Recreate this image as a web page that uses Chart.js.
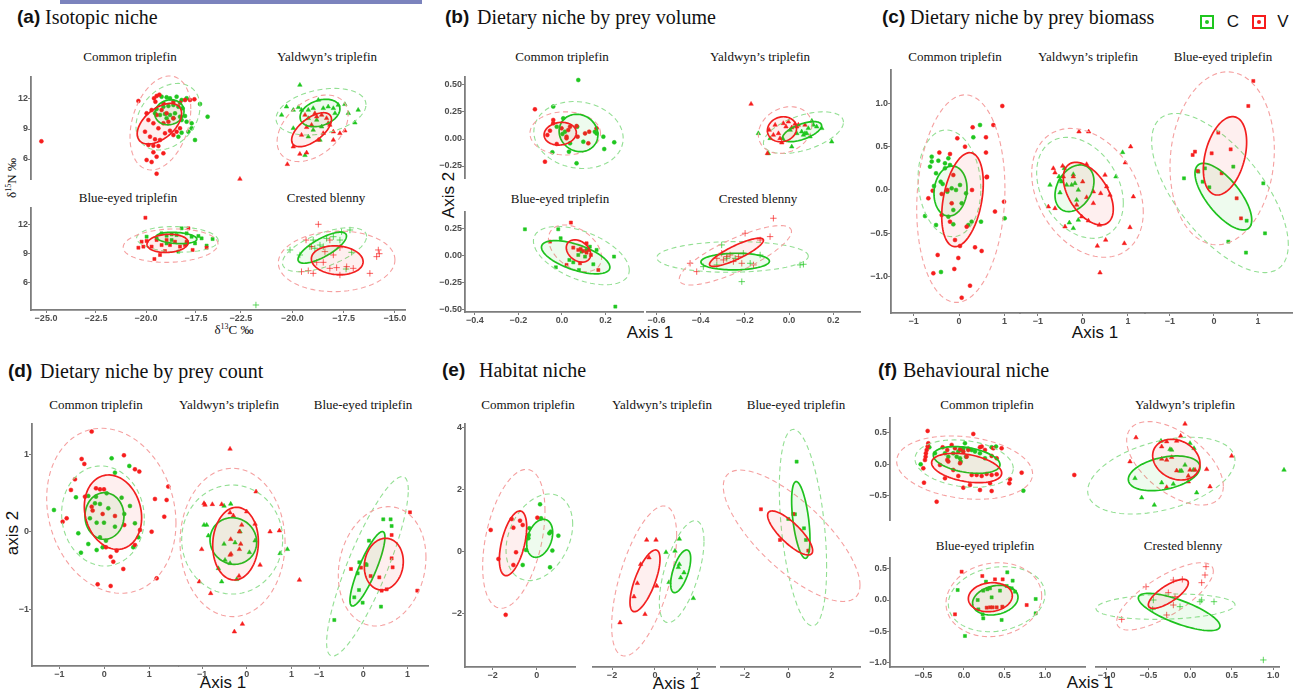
<!DOCTYPE html>
<html>
<head>
<meta charset="utf-8">
<script src="https://cdn.jsdelivr.net/npm/chart.js@4.4.1/dist/chart.umd.min.js"></script>
<style>
  body { margin: 0; background: #fff; width: 1299px; height: 693px; overflow: hidden; position: relative; }
  canvas { position: absolute; }
  .t { position: absolute; white-space: nowrap; color: #111; }
  .lb { font: bold 19px "Liberation Sans", sans-serif; transform: translateY(-50%); }
  .ls { font: 20px "Liberation Serif", serif; transform: translateY(-50%); }
  .sub { font: 13px "Liberation Serif", serif; transform: translate(-50%, -50%); }
  .ax { font: 17px "Liberation Sans", sans-serif; transform: translate(-50%, -50%); }
  .axr { font: 17px "Liberation Sans", sans-serif; transform: translate(-50%, -50%) rotate(-90deg); }
  .dl { font: 13px "Liberation Serif", serif; transform: translate(-50%, -50%); }
  .dlr { font: 13px "Liberation Serif", serif; transform: translate(-50%, -50%) rotate(-90deg); }
  sup { font-size: 8px; }
  .key { position: absolute; width: 10px; height: 10px; border: 2px solid; }
  .key i { position: absolute; left: 3px; top: 3px; width: 4px; height: 4px; border-radius: 50%; }
</style>
</head>
<body>
<div style="position:absolute;left:60px;top:0;width:362px;height:4px;background:#7b83bd"></div>

<div class="t lb" style="left:17px;top:17px">(a)</div><div class="t ls" style="left:45px;top:17px">Isotopic niche</div>
<div class="t lb" style="left:445px;top:17px">(b)</div><div class="t ls" style="left:477px;top:17px">Dietary niche by prey volume</div>
<div class="t lb" style="left:882px;top:17px">(c)</div><div class="t ls" style="left:910px;top:17px">Dietary niche by prey biomass</div>
<div class="t lb" style="left:8px;top:371px">(d)</div><div class="t ls" style="left:40px;top:371px">Dietary niche by prey count</div>
<div class="t lb" style="left:442px;top:370px">(e)</div><div class="t ls" style="left:479px;top:370px">Habitat niche</div>
<div class="t lb" style="left:878px;top:370px">(f)</div><div class="t ls" style="left:903px;top:370px">Behavioural niche</div>

<div class="key" style="left:1200px;top:15px;border-color:#1fc61f"><i style="background:#1fc61f"></i></div>
<div class="t ax" style="left:1233px;top:22px">C</div>
<div class="key" style="left:1252px;top:15px;border-color:#f61d1d"><i style="background:#f61d1d"></i></div>
<div class="t ax" style="left:1283px;top:22px">V</div>

<div class="t sub" style="left:130px;top:57px">Common triplefin</div>
<div class="t sub" style="left:327px;top:57px">Yaldwyn’s triplefin</div>
<div class="t sub" style="left:128px;top:198px">Blue-eyed triplefin</div>
<div class="t sub" style="left:326px;top:198px">Crested blenny</div>
<div class="t sub" style="left:562px;top:57px">Common triplefin</div>
<div class="t sub" style="left:760px;top:57px">Yaldwyn’s triplefin</div>
<div class="t sub" style="left:560px;top:199px">Blue-eyed triplefin</div>
<div class="t sub" style="left:758px;top:199px">Crested blenny</div>
<div class="t sub" style="left:955px;top:57px">Common triplefin</div>
<div class="t sub" style="left:1088px;top:57px">Yaldwyn’s triplefin</div>
<div class="t sub" style="left:1223px;top:57px">Blue-eyed triplefin</div>
<div class="t sub" style="left:96px;top:405px">Common triplefin</div>
<div class="t sub" style="left:229px;top:405px">Yaldwyn’s triplefin</div>
<div class="t sub" style="left:363px;top:405px">Blue-eyed triplefin</div>
<div class="t sub" style="left:528px;top:405px">Common triplefin</div>
<div class="t sub" style="left:662px;top:405px">Yaldwyn’s triplefin</div>
<div class="t sub" style="left:796px;top:405px">Blue-eyed triplefin</div>
<div class="t sub" style="left:987px;top:405px">Common triplefin</div>
<div class="t sub" style="left:1185px;top:405px">Yaldwyn’s triplefin</div>
<div class="t sub" style="left:985px;top:546px">Blue-eyed triplefin</div>
<div class="t sub" style="left:1183px;top:546px">Crested blenny</div>

<div class="t dl" style="left:234px;top:330px">δ<sup>13</sup>C ‰</div>
<div class="t dlr" style="left:12px;top:178px">δ<sup>15</sup>N ‰</div>
<div class="t ax" style="left:650px;top:333px">Axis 1</div>
<div class="t axr" style="left:449px;top:195px">Axis 2</div>
<div class="t ax" style="left:1095px;top:333px">Axis 1</div>
<div class="t ax" style="left:223px;top:683px">Axis 1</div>
<div class="t axr" style="left:13px;top:533px">axis 2</div>
<div class="t ax" style="left:676px;top:684px">Axis 1</div>
<div class="t ax" style="left:1090px;top:683px">Axis 1</div>

<script>
// ---- data: points [x, y], C = green, V = red ----
// ellipses: [cx, cy, halfX, halfY, rho] in order C solid, V solid, C dashed, V dashed

// (a) isotopic niche
const a_com_C = [[-19.22,12.23],[-18.97,12.17],[-18.8,12.07],[-18.47,12.23],[-18.22,11.9],[-17.97,12.07],[-17.3,11.5],[-16.92,10.23],[-19.13,11.23],[-18.88,11.3],[-18.63,11.4],[-18.38,11.23],[-18.17,11.07],[-19.55,10.57],[-19.3,10.4],[-19.05,10.5],[-18.8,10.4],[-18.55,10.57],[-18.3,10.23],[-18.05,10.3],[-18.97,10.07],[-18.63,10.07],[-18.22,9.9],[-17.97,9.73],[-17.72,9.57],[-17.72,9.07],[-17.88,8.73],[-18.22,8.63],[-18.38,8.23],[-17.55,7.9],[-19.47,11.0]];
const a_com_V = [[-25.23,7.77],[-20.38,11.8],[-19.6,12.07],[-19.47,12.3],[-19.33,12.43],[-19.53,11.73],[-19.13,11.57],[-18.63,11.73],[-18.3,11.63],[-18.05,11.9],[-17.8,11.9],[-17.58,11.97],[-19.97,10.57],[-19.72,10.9],[-19.47,10.4],[-19.22,10.9],[-18.97,10.57],[-19.88,9.9],[-19.63,9.57],[-19.38,9.07],[-19.13,9.57],[-18.88,9.73],[-18.63,10.07],[-20.05,8.73],[-19.8,8.23],[-19.55,7.97],[-19.3,7.9],[-19.05,8.57],[-18.8,8.83],[-18.63,8.4],[-19.88,7.4],[-19.63,7.33],[-19.38,7.3],[-19.63,6.67],[-19.13,6.57],[-19.47,6.23],[-19.97,5.9],[-19.72,5.7],[-19.47,4.53],[-18.3,9.07],[-18.47,8.73]];
const a_com_ell = [[-18.83,10.67,0.73,1.25,0.1],[-19.33,9.53,1.11,2.03,0.5],[-18.9,10.23,1.6,3.33,0.3],[-19.28,9.6,1.52,4.7,0.3]];

const a_yal_C = [[-19.63,13.4],[-20.28,11.23],[-19.95,10.9],[-19.7,11.17],[-19.55,10.9],[-19.22,10.9],[-18.98,11.07],[-18.73,11.9],[-18.49,11.07],[-18.25,11.23],[-18.0,11.07],[-17.76,11.4],[-17.44,11.47],[-16.79,10.9],[-17.92,10.57],[-17.27,10.57],[-16.95,9.63],[-19.22,10.07],[-18.81,9.9],[-18.57,9.23],[-18.98,8.9],[-19.22,8.23],[-18.65,7.9],[-19.38,6.37],[-19.95,9.07],[-20.52,10.4]];
const a_yal_V = [[-20.24,5.47],[-19.63,6.5],[-19.3,6.63],[-19.95,7.23],[-19.55,8.4],[-19.3,9.17],[-19.06,9.4],[-18.81,10.23],[-18.9,10.57],[-18.57,10.4],[-18.33,10.07],[-18.17,9.4],[-18.0,8.73],[-18.49,8.57],[-18.73,7.9],[-17.68,8.57],[-17.44,8.83],[-18.0,7.9],[-18.25,9.57],[-19.38,10.4],[-22.55,4.0]];
const a_yal_ell = [[-18.65,10.6,0.97,1.37,0.3],[-19.06,8.93,0.97,1.7,0.6],[-18.6,10.73,2.19,2.33,0.3],[-19.01,9.07,1.73,3.33,0.4]];

const a_blu_C = [[-19.97,10.71],[-19.47,10.54],[-19.22,11.05],[-18.97,10.81],[-18.72,10.95],[-18.47,10.88],[-18.22,11.56],[-17.97,11.05],[-17.72,10.71],[-17.38,10.78],[-17.22,10.54],[-17.55,10.03],[-16.97,9.8],[-16.67,10.47],[-18.38,9.19],[-18.72,10.37],[-18.97,10.03],[-17.97,10.03]];
const a_blu_V = [[-20.03,12.64],[-20.38,9.59],[-20.22,10.2],[-19.97,10.27],[-20.13,9.7],[-19.72,9.7],[-19.58,8.44],[-19.3,8.85],[-19.47,10.37],[-19.22,9.86],[-18.97,10.37],[-18.8,9.86],[-18.55,10.2],[-18.3,9.7],[-18.05,9.86],[-17.88,11.56],[-17.97,10.2],[-17.67,9.36],[-16.97,9.59],[-19.05,9.25]];
const a_blu_ell = [[-18.48,10.58,1.02,0.58,-0.2],[-18.92,10.03,1.03,0.93,0.1],[-18.43,10.44,2.04,1.3,-0.1],[-18.77,9.8,2.37,1.7,0.1]];

const a_cre_C = [[-17.19,11.39],[-17.6,11.22],[-18.0,10.71],[-18.33,10.54],[-18.65,9.86],[-18.9,9.53],[-19.14,9.7],[-18.49,9.7],[-17.68,10.37],[-18.98,10.37],[-19.63,8.85],[-20.11,9.36],[-17.11,9.12],[-17.38,7.42],[-21.77,3.76]];
const a_cre_V = [[-18.73,11.97],[-19.33,10.37],[-19.55,7.15],[-19.22,7.25],[-18.98,6.98],[-18.81,8.1],[-18.49,8.1],[-18.17,7.49],[-17.84,7.56],[-17.68,6.81],[-17.35,7.66],[-17.03,7.49],[-16.22,6.98],[-15.89,8.68],[-15.81,9.36],[-15.76,8.98],[-18.41,9.19],[-18.0,8.85],[-17.68,9.59],[-18.17,10.37],[-19.06,9.7]];
const a_cre_ell = [[-18.54,9.59,1.18,1.58,0.75],[-17.81,8.31,1.26,1.47,-0.1],[-18.43,9.39,2.05,2.24,0.6],[-17.84,8.2,2.84,3.08,0.05]];

// (b) prey volume
const b_com_C = [[0.075,0.546],[-0.04,0.3],[0.006,0.191],[-0.024,0.114],[0.002,0.046],[0.037,-0.04],[0.07,0.114],[0.032,-0.117],[0.067,-0.225],[-0.044,-0.123],[0.151,0.068],[0.159,0.052],[0.19,0.022],[0.194,-0.093],[0.24,-0.031],[0.098,-0.025],[0.014,0.068]];
const b_com_V = [[-0.124,0.275],[-0.078,-0.21],[-0.04,0.176],[-0.067,0.037],[-0.055,0.077],[-0.024,-0.046],[-0.002,0.099],[0.021,0.022],[0.029,0.083],[0.021,0.006],[0.037,0.114],[0.067,0.12],[0.072,0.022],[0.106,0.052],[0.121,-0.04],[0.125,0.068],[0.159,0.099],[-0.04,0.145]];
const b_com_ell = [[0.076,0.056,0.089,0.173,-0.1],[-0.008,0.049,0.074,0.105,0.1],[0.076,0.037,0.205,0.31,-0.1],[0.015,0.052,0.162,0.2,0]];

const b_yal_C = [[-0.139,0.052],[-0.086,0.006],[-0.094,-0.133],[-0.029,0.006],[0.005,0.083],[0.012,-0.071],[0.035,0.052],[0.057,0.068],[0.065,0.037],[0.08,0.052],[0.087,0.099],[0.103,0.167],[0.11,0.13],[0.125,0.114],[0.148,0.099],[0.193,-0.025],[0.095,0.022],[0.072,0.052]];
const b_yal_V = [[-0.172,0.324],[-0.09,0.083],[-0.071,0.037],[-0.048,0.052],[-0.063,0.13],[-0.041,0.006],[-0.026,0.145],[-0.014,0.114],[-0.003,0.16],[0.012,0.105],[0.027,0.139],[0.035,0.114],[0.042,0.13],[-0.098,-0.133],[-0.033,-0.034],[0.072,0.13]];
const b_yal_ell = [[0.059,0.068,0.088,0.093,0.6],[-0.032,0.09,0.066,0.116,0.1],[0.065,0.059,0.181,0.193,0.5],[-0.018,0.083,0.121,0.216,0.2]];

const b_blu_C = [[-0.17,0.247],[-0.017,0.247],[-0.006,0.164],[-0.028,-0.105],[0.052,-0.059],[0.075,0.009],[0.09,0.04],[0.106,-0.006],[0.113,0.056],[0.128,0.086],[0.144,-0.077],[0.159,0.056],[0.078,-0.13],[0.239,-0.006],[0.245,-0.469],[0.034,-0.037]];
const b_blu_V = [[0.041,0.309],[-0.055,0.133],[0.021,-0.083],[0.052,0.077],[0.075,0.056],[0.086,0.065],[0.098,0.046],[0.113,0.031],[0.121,0.056],[0.113,0.117],[0.167,-0.13],[0.083,-0.068],[0.133,0.009]];
const b_blu_ell = [[0.063,-0.012,0.157,0.154,-0.6],[0.076,0.046,0.056,0.103,-0.3],[0.089,0.003,0.22,0.27,-0.5],[0.06,0.071,0.122,0.216,-0.4]];

const b_cre_C = [[-0.305,0.102],[-0.207,0.025],[-0.176,-0.068],[-0.214,-0.238],[0.05,-0.083],[0.065,-0.077],[-0.327,-0.083],[-0.282,-0.022],[-0.244,-0.022],[-0.131,0.009],[-0.388,-0.099]];
const b_cre_V = [[-0.071,0.349],[-0.199,0.21],[-0.086,0.179],[-0.131,0.148],[-0.305,0.025],[-0.327,-0.022],[-0.297,-0.037],[-0.282,-0.006],[-0.267,0.009],[-0.252,-0.052],[-0.229,-0.006],[-0.214,-0.068],[-0.448,-0.068],[-0.418,-0.145],[-0.161,-0.083]];
const b_cre_ell = [[-0.244,-0.052,0.155,0.077,0.05],[-0.238,0.034,0.122,0.131,0.85],[-0.256,-0.009,0.343,0.142,0.05],[-0.243,0.006,0.254,0.275,0.8]];

// (c) prey biomass
const c_com_C = [[0.462,0.751],[0.315,0.609],[-0.6,0.385],[-0.6,0.328],[-0.454,0.339],[-0.308,0.308],[-0.234,0.366],[-0.505,0.193],[-0.637,0.27],[-0.198,0.289],[-0.308,0.25],[-0.403,0.096],[-0.359,0.069],[-0.256,-0.019],[-0.161,0.019],[-0.066,0],[0.022,0.058],[0.154,-0.039],[0.059,-0.154],[-0.125,-0.231],[-0.234,-0.308],[-0.125,-0.397],[-0.505,-0.405],[-0.747,-0.301],[0.205,-0.405],[0.278,-0.366],[0.484,-0.366],[-0.396,-0.948],[1.004,-0.328],[-0.55,0.046]];
const c_com_V = [[0.952,0.971],[0.755,0.751],[0.3,0.724],[-0.037,0.597],[0.593,0.609],[0.132,0.501],[-0.432,0.432],[0.593,0.432],[-0.198,0.416],[0.608,0.146],[-0.125,0.173],[-0.579,-0.008],[-0.674,-0.096],[-0.381,-0.046],[-0.161,-0.154],[-0.381,-0.289],[-0.198,-0.366],[-0.088,-0.578],[0.022,-0.647],[-0.469,-0.751],[-0.564,-0.963],[-0.103,-0.913],[-0.015,-0.786],[0.242,-1.106],[0.059,-1.245],[0.352,-0.663],[0.498,-0.705],[0.791,-0.25],[0.989,-0.135],[0.615,0.154],[0.168,-0.424],[0.286,0],[-0.256,0]];
const c_com_ell = [[-0.187,-0.012,0.363,0.289,0.1],[0.077,-0.112,0.457,0.543,0.35],[-0.21,0.077,0.69,0.617,-0.1],[0.04,-0.1,0.97,1.2,0.1]];

const c_yal_C = [[-0.415,0.25],[-0.215,0.181],[0.881,0.435],[-0.533,0.154],[-0.474,0.096],[-0.363,0.058],[-0.252,0.058],[-0.178,0.077],[-0.104,0],[-0.733,0.058],[-0.511,-0.031],[-0.141,-0.116],[-0.304,-0.378],[-0.215,-0.443],[-0.104,-0.347],[0.733,0.154],[-0.511,0.116]];
const c_yal_V = [[-0.089,0.674],[0.126,0.674],[1.059,0.501],[0.941,0.316],[-0.659,0.25],[-0.622,0.2],[-0.452,0.277],[0.081,0.297],[0.489,0.173],[-0.437,0.154],[-0.77,-0.193],[-0.622,-0.212],[-0.4,-0.424],[-0.215,0.154],[-0.007,0.096],[0.23,-0.019],[0.393,-0.039],[0.526,0.039],[0.6,-0.058],[0.081,-0.085],[0.23,-0.154],[-0.141,-0.173],[-0.03,-0.308],[0.119,-0.355],[0.363,-0.405],[0.319,-0.647],[0.504,-0.578],[0.919,-0.617],[1.044,-0.432],[1.119,-0.077],[0.378,-0.956]];
const c_yal_ell = [[-0.189,0.02,0.433,0.27,0.3],[0.118,-0.042,0.555,0.362,-0.5],[-0.067,0.025,0.963,0.584,-0.3],[0.1,-0.033,1.24,0.745,-0.3]];

const c_blu_C = [[0.439,0.27],[-0.682,0.135],[-0.356,0.212],[-0.205,0.25],[-0.258,0.096],[-0.106,0.031],[0.742,-0.355],[1.121,0.077],[1.159,-0.501],[0.326,-0.597],[0.727,-0.724]];
const c_blu_V = [[0.894,1.26],[0.78,0.971],[0.098,0.663],[-0.432,0.443],[-0.485,0.405],[-0.053,0.424],[0.379,0.47],[0.174,0.193],[-0.371,0.22],[0.515,-0.096],[0.614,-0.328]];
const c_blu_ell = [[0.213,-0.077,0.645,0.385,-0.7],[0.25,0.395,0.492,0.453,0.35],[0.136,-0.035,1.553,0.92,-0.65],[0.186,0.366,1.186,1.0,0.1]];

// (d) prey count
const d_com_C = [[0.163,0.948],[0.556,0.85],[0.237,0.764],[-1.119,0.283],[-0.63,0.446],[-0.356,0.464],[-0.185,0.455],[0.052,0.498],[0.385,0.442],[0.57,0.335],[-0.207,0.369],[-0.096,0.361],[0.089,0.305],[-0.319,0.176],[-0.17,0.12],[-0.007,0.12],[0.237,0.069],[0.444,0.232],[0.681,0.112],[-0.578,-0.017],[-0.356,-0.155],[-0.096,-0.069],[0.037,-0.112],[-0.17,-0.232],[-0.519,-0.266],[-0.037,-0.197],[0.644,-0.197],[0.756,-0.069]];
const d_com_V = [[-0.281,1.292],[-0.504,0.94],[-0.444,0.876],[0.437,0.987],[0.681,0.807],[0.778,0.777],[-0.652,0.678],[-0.741,0.541],[1.422,0.584],[1.385,0.412],[1.126,0.425],[1.333,0.197],[1.052,0.004],[-0.837,0.176],[-0.926,0.133],[-0.43,0.455],[-0.185,0.562],[-0.096,0.549],[-0.007,0.549],[-0.259,0.275],[-0.037,0.232],[0.237,0.206],[0.444,0.09],[0.793,0.026],[0.274,-0.24],[0.037,-0.197],[0.141,-0.318],[0.2,-0.382],[0.422,-0.476],[-0.148,-0.674],[0.141,-0.695],[1.163,-0.597],[0.681,-0.167],[-0.281,0.326]];
const d_com_ell = [[0.004,0.206,0.433,0.3,0],[0.193,0.255,0.637,0.479,-0.15],[-0.03,0.206,0.919,0.644,-0.05],[0.156,0.273,1.437,1.062,-0.15]];

const d_yal_C = [[-0.955,0.09],[-0.896,0.09],[-0.507,0.335],[-0.358,0.361],[-0.858,-0.047],[-0.507,-0.155],[-0.261,-0.137],[0.187,-0.112],[0.06,-0.262],[-0.485,-0.361],[-0.634,-0.468],[-0.56,-0.639],[-0.224,-0.609],[0.746,-0.275],[0.91,-0.223],[-0.373,-0.403],[-0.149,0.004]];
const d_yal_V = [[-0.373,1.069],[-0.955,0.369],[-0.933,0.348],[-0.769,0.356],[-0.56,0.356],[0.209,0.519],[-0.373,0.249],[-0.299,0.21],[-0.112,0.09],[0,0.262],[-0.164,0.004],[-0.358,-0.094],[-0.134,-0.155],[-0.164,-0.223],[-0.351,-0.283],[-0.373,-0.296],[0.187,0.103],[0.522,0.004],[0.731,0.017],[-1.007,-0.223],[0.299,-0.425],[-0.172,-0.567],[-1.06,-0.639],[-0.806,-0.79],[-0.097,-1.185],[-0.276,-1.283],[1.179,-0.618]];
const d_yal_ell = [[-0.299,-0.116,0.522,0.3,-0.05],[-0.25,-0.15,0.511,0.468,0.05],[-0.325,-0.097,1.13,0.702,0],[-0.317,-0.135,1.175,0.955,0]];

const d_blu_C = [[0.452,0.163],[0.618,0.163],[0.641,0.077],[0.128,-0.112],[0.053,-0.412],[-0.09,-0.39],[-0.128,-0.532],[-0.098,-0.747],[-0.204,-0.841],[-0.015,-0.91],[0.4,-0.961],[-0.656,-1.133],[0.075,-0.425]];
const d_blu_V = [[1.056,0.253],[0.641,-0.039],[0.641,-0.339],[0.664,-0.455],[-0.279,-0.476],[-0.053,-0.459],[0.166,-0.567],[0.362,-0.584],[0.415,-0.755],[0.528,-0.738],[1.222,-0.755]];
const d_blu_ell = [[0.094,-0.474,0.396,0.479,0.85],[0.464,-0.414,0.441,0.333,0.1],[0.094,-0.442,0.924,1.155,0.85],[0.426,-0.442,0.992,0.768,0.15]];

// (e) habitat niche
const e_com_C = [[0.152,1.516],[0.197,1.065],[-0.333,0.742],[-0.364,0.527],[-0.379,0.419],[-0.485,0.043],[-0.636,-0.441],[0.576,0.581],[0.636,0.634],[0.985,0.505],[0.712,0.022],[0.606,-0.516]];
const e_com_V = [[-2.09,0.688],[-1.74,-0.247],[-1.41,-2.05],[-1.14,1.04],[-1.06,0.763],[-0.758,0.989],[-0.636,0.849],[-0.94,-0.032],[-1.06,-0.441],[0.03,1.086]];
const e_com_ell = [[0.136,0.419,0.591,0.613,0.3],[-1.076,0.258,0.621,1.043,0.5],[0.121,0.452,1.515,1.398,0.3],[-1.04,0.403,1.417,2.24,0.4]];

const e_yal_C = [[0.512,-0.032],[1.132,0.398],[0.93,0.011],[1.132,-0.419],[1.085,-0.516],[1.349,-0.688],[1.194,-0.849],[0.651,-1.0],[1.783,-1.516]];
const e_yal_V = [[-1.628,-2.3],[-0.977,-1.462],[-0.822,-1.032],[-0.667,-0.419],[-0.279,-0.204],[-0.388,0.366],[0.047,0.366],[0.078,-1.118],[-0.465,-2.03]];
const e_yal_ell = [[1.194,-0.645,0.465,0.688,0.6],[-0.465,-0.952,0.698,0.995,0.7],[1.24,-0.656,1.039,1.645,0.6],[-0.504,-0.957,1.512,2.42,0.6]];

const e_blu_C = [[0.384,2.892],[0,1.043],[0.722,0.742],[0.814,0.366],[0.307,1.194]];
const e_blu_V = [[-1.26,1.355],[-0.384,0.366],[0.23,1.204],[0.922,0.022]];
const e_blu_ell = [[0.576,1.011,0.422,1.237,-0.5],[0.084,0.591,1.037,0.71,-0.8],[0.676,0.763,1.09,3.17,-0.4],[0.154,0.5,3.15,2.12,-0.75]];

// (f) behavioural niche
const f_com_C = [[-0.427,0.271],[-0.534,0],[-0.234,0.176],[-0.132,0.176],[-0.07,0.202],[-0.029,0.229],[-0.008,0.25],[0.012,0.335],[0.025,0.122],[-0.049,0.096],[-0.041,0.043],[-0.09,0.122],[0.053,0.25],[0.095,0.229],[0.136,0.202],[-0.193,0.122],[0.259,0.096],[0.341,0.271],[0.395,0.282],[0.732,-0.42],[0.197,0.176],[-0.358,0.176]];
const f_com_V = [[-0.448,0.532],[-0.44,0.335],[-0.448,0.282],[-0.46,0.229],[-0.469,0.176],[-0.473,0.122],[-0.481,0.069],[-0.501,-0.064],[-0.493,-0.293],[-0.337,-0.596],[-0.263,0.271],[-0.206,0.229],[-0.152,0.309],[-0.111,0.255],[-0.049,0.239],[-0.008,0.202],[0.053,0.229],[0.115,0.484],[0.197,0.271],[0.218,0.282],[0.259,0.229],[0.341,0.133],[0.403,0.096],[0.464,0.255],[0.362,0.255],[0.567,-0.239],[0.559,-0.303],[0.711,-0.133],[0.321,-0.303],[0.341,-0.426],[0.197,-0.41],[0.074,-0.33],[-0.008,-0.372],[-0.07,-0.186],[-0.234,-0.223],[-0.296,-0.011],[-0.193,0.043],[-0.049,0.016],[0.033,0.122],[0.095,-0.17],[0.156,-0.17],[0.218,-0.186],[0.279,-0.154],[0.341,-0.17],[0.403,-0.16],[-0.206,0.069],[-0.132,-0.09],[1.36,-0.17]];
const f_com_ell = [[0.033,0.069,0.411,0.213,-0.35],[0.033,-0.059,0.432,0.234,-0.35],[0.002,0.011,0.606,0.378,-0.2],[0.008,-0.053,0.838,0.505,-0.2]];

const f_yal_C = [[-0.348,0.372],[-0.24,0.239],[-0.22,0.229],[0,0.335],[0.048,0.255],[-0.12,-0.106],[-0.1,-0.106],[-0.06,-0.011],[0.04,-0.09],[-0.66,-0.223],[-0.34,-0.293],[-0.2,-0.314],[-0.58,-0.532],[-0.428,-0.649],[0.08,-0.452],[1.128,-0.09]];
const f_yal_V = [[-0.06,0.644],[-0.648,0.426],[-0.72,0.043],[-0.34,0.282],[-0.28,0.362],[-0.16,0.372],[-0.112,0.452],[0.5,0.133],[-0.34,0.085],[-0.28,0.069],[-0.22,0.112],[-0.16,-0.101],[0,-0.09],[0.06,-0.09],[0.2,-0.08],[-0.02,-0.186],[-0.02,-0.277],[0.24,-0.356],[-0.28,-0.367]];
const f_yal_ell = [[-0.31,-0.144,0.43,0.277,0.35],[-0.164,0.074,0.284,0.324,-0.2],[-0.344,-0.181,0.884,0.612,0.4],[-0.18,0.016,0.58,0.665,-0.55]];

const f_blu_C = [[0.534,0.441],[-0.078,0.159],[0.271,0.292],[0.288,0.17],[0.321,0.186],[0.238,0.149],[0.444,0.149],[0.526,0.223],[0.588,0.186],[0.629,0.133],[0.6,0.308],[0.169,0],[0.341,0.042],[0.177,-0.149],[0.23,-0.228],[0.238,-0.292],[0.464,-0.318],[0.012,-0.573],[0.884,0.016],[0.884,-0.212]];
const f_blu_V = [[-0.029,0.451],[0.226,0.382],[0.382,0.329],[0.477,0.329],[-0.111,-0.228],[0.773,-0.08],[0.28,-0.122],[0.321,-0.117],[0.353,-0.117],[0.403,-0.117],[0.473,-0.106]];
const f_blu_ell = [[0.386,-0.003,0.28,0.236,0.2],[0.325,0.045,0.271,0.231,0.1],[0.403,0.013,0.596,0.518,0.15],[0.368,0.005,0.59,0.589,0.1]];

const f_cre_C = [[-0.448,-0.149],[0.12,-0.027],[0.288,-0.027],[0.14,0],[-0.44,0],[0.88,-0.955],[-0.12,-0.106]];
const f_cre_V = [[-0.528,0.212],[-0.26,0.117],[-0.2,0.318],[-0.092,0.329],[0.18,0.398],[0.14,0.276],[0.192,0.531],[-0.2,-0.08],[-0.18,0.053],[-0.82,-0.308],[-0.28,-0.239]];
const f_cre_ell = [[-0.13,-0.191,0.49,0.297,-0.75],[-0.26,0.098,0.24,0.231,0.75],[-0.294,-0.106,0.834,0.202,0.15],[-0.3,0.058,0.58,0.536,0.75]];

// ---- drawing ----
const RED = '#f61d1d', GREEN = '#1fc61f';
const AXIS = '#7d7d7d';

// draws the niche ellipses through the chart's own scales
const ellipsePlugin = {
    id: 'ellipses',
    afterDatasetsDraw(chart, args, opts) {
        const ctx = chart.ctx;
        const xs = chart.scales.x, ys = chart.scales.y;
        const list = opts.list || [];
        [2, 3, 0, 1].forEach(i => {
            const e = list[i];
            if (!e) return;
            const [cx, cy, sx, sy, r] = e;
            const q = Math.sqrt(1 - r * r);
            ctx.save();
            ctx.beginPath();
            for (let k = 0; k <= 96; k++) {
                const t = k / 96 * 2 * Math.PI;
                const px = xs.getPixelForValue(cx + sx * Math.cos(t));
                const py = ys.getPixelForValue(cy + sy * (r * Math.cos(t) + q * Math.sin(t)));
                if (k === 0) ctx.moveTo(px, py); else ctx.lineTo(px, py);
            }
            ctx.closePath();
            const green = i % 2 === 0, dashed = i >= 2;
            if (!dashed) {
                ctx.fillStyle = green ? 'rgba(40,200,40,0.08)' : 'rgba(240,50,50,0.08)';
                ctx.fill();
            }
            ctx.setLineDash(dashed ? [5, 3.5] : []);
            ctx.lineWidth = dashed ? 1.1 : 1.7;
            ctx.strokeStyle = dashed ? (green ? '#93df93' : '#f5a0a0') : (green ? '#1ec21e' : '#f21f1f');
            ctx.stroke();
            ctx.restore();
        });
    }
};

function fmt(dec) {
    return v => (v < -1e-9 ? '−' : '') + Math.abs(v).toFixed(dec);
}

function axis(min, max, ticks, dec, show, isY) {
    return {
        type: 'linear', min: min, max: max, display: true,
        afterBuildTicks: s => { s.ticks = ticks.map(v => ({ value: v })); },
        afterFit: s => { if (isY) s.width = 40; else s.height = 20; },
        border: { display: show, color: AXIS, width: 1.8 },
        grid: { display: show, drawOnChartArea: false, drawTicks: true, tickLength: 3, color: AXIS, lineWidth: 1 },
        ticks: {
            display: show, padding: 0, color: '#4d4d4d', autoSkip: false, maxRotation: 0,
            font: { family: 'Liberation Sans', size: 9, weight: 'bold' },
            callback: fmt(dec)
        }
    };
}

const SIZE = { circle: 2.0, triangle: 2.6, rect: 2.2, cross: 3.2 };

function points(arr, color, shape) {
    const cross = shape === 'cross';
    return {
        data: arr.map(p => ({ x: p[0], y: p[1] })),
        pointStyle: shape,
        pointRadius: SIZE[shape],
        backgroundColor: color,
        borderColor: cross ? color + 'b0' : color,
        borderWidth: cross ? 1 : 0.5,
        clip: false
    };
}

// box = plot area [left, top, right, bottom] on the page
function subplot(box, xScale, yScale, shape, C, V, ell) {
    const cv = document.createElement('canvas');
    const w = box[2] - box[0] + 46, h = box[3] - box[1] + 26;
    cv.width = w; cv.height = h;
    cv.style.left = (box[0] - 40) + 'px';
    cv.style.top = (box[1] - 6) + 'px';
    cv.style.width = w + 'px';
    cv.style.height = h + 'px';
    document.body.appendChild(cv);
    new Chart(cv, {
        type: 'scatter',
        data: { datasets: [points(V, RED, shape), points(C, GREEN, shape)] },
        options: {
            responsive: false,
            animation: false,
            events: [],
            layout: { padding: { left: 0, right: 6, top: 6, bottom: 0 } },
            plugins: { legend: { display: false }, tooltip: { enabled: false }, ellipses: { list: ell } },
            scales: { x: xScale, y: yScale }
        },
        plugins: [ellipsePlugin]
    });
}

// (a)
subplot([31, 77, 218, 179], axis(-25.75, -16.4, [-25, -22.5, -20, -17.5], 1, false, false), axis(4.0, 14.2, [12, 9, 6], 0, true, true), 'circle', a_com_C, a_com_V, a_com_ell);
subplot([220, 77, 405, 179], axis(-23.52, -14.51, [-22.5, -20, -17.5, -15], 1, false, false), axis(4.0, 14.2, [12, 9, 6], 0, false, true), 'triangle', a_yal_C, a_yal_V, a_yal_ell);
subplot([31, 208, 218, 310], axis(-25.75, -16.4, [-25, -22.5, -20, -17.5], 1, true, false), axis(3.25, 13.63, [12, 9, 6], 0, true, true), 'rect', a_blu_C, a_blu_V, a_blu_ell);
subplot([220, 208, 405, 310], axis(-23.52, -14.51, [-22.5, -20, -17.5, -15], 1, true, false), axis(3.25, 13.63, [12, 9, 6], 0, false, true), 'cross', a_cre_C, a_cre_V, a_cre_ell);

// (b)
subplot([465, 77, 643, 178], axis(-0.445, 0.372, [-0.4, -0.2, 0, 0.2], 1, false, false), axis(-0.361, 0.574, [0.5, 0.25, 0, -0.25], 2, true, true), 'circle', b_com_C, b_com_V, b_com_ell);
subplot([647, 77, 860, 178], axis(-0.643, 0.321, [-0.6, -0.4, -0.2, 0, 0.2], 1, false, false), axis(-0.361, 0.574, [0.5, 0.25, 0, -0.25], 2, false, true), 'triangle', b_yal_C, b_yal_V, b_yal_ell);
subplot([465, 212, 643, 312], axis(-0.445, 0.372, [-0.4, -0.2, 0, 0.2], 1, true, false), axis(-0.519, 0.407, [0.25, 0, -0.25, -0.5], 2, true, true), 'rect', b_blu_C, b_blu_V, b_blu_ell);
subplot([647, 212, 860, 312], axis(-0.643, 0.321, [-0.6, -0.4, -0.2, 0, 0.2], 1, true, false), axis(-0.519, 0.407, [0.25, 0, -0.25, -0.5], 2, false, true), 'cross', b_cre_C, b_cre_V, b_cre_ell);

// (c)
subplot([891, 70, 1020, 313], axis(-1.495, 1.341, [-1, 0, 1], 0, true, false), axis(-1.422, 1.387, [1, 0.5, 0, -0.5, -1], 1, true, true), 'circle', c_com_C, c_com_V, c_com_ell);
subplot([1020, 70, 1145, 313], axis(-1.4, 1.378, [-1, 0, 1], 0, true, false), axis(-1.422, 1.387, [1, 0.5, 0, -0.5, -1], 1, false, true), 'triangle', c_yal_C, c_yal_V, c_yal_ell);
subplot([1145, 70, 1292, 313], axis(-1.568, 1.773, [-1, 0, 1], 0, true, false), axis(-1.422, 1.387, [1, 0.5, 0, -0.5, -1], 1, false, true), 'rect', c_blu_C, c_blu_V, c_blu_ell);

// (d)
subplot([32, 424, 178, 666], axis(-1.607, 1.638, [-1, 0, 1], 0, true, false), axis(-1.725, 1.39, [1, 0, -1], 0, true, true), 'circle', d_com_C, d_com_V, d_com_ell);
subplot([179, 424, 308, 666], axis(-1.515, 1.371, [-1, 0, 1], 0, true, false), axis(-1.725, 1.39, [1, 0, -1], 0, false, true), 'triangle', d_yal_C, d_yal_V, d_yal_ell);
subplot([310, 424, 428, 666], axis(-1.206, 1.464, [-1, 0, 1], 0, true, false), axis(-1.725, 1.39, [1, 0, -1], 0, false, true), 'rect', d_blu_C, d_blu_V, d_blu_ell);

// (e)
subplot([465, 424, 575, 667], axis(-3.259, 1.741, [-2, 0], 0, true, false), axis(-3.732, 4.106, [4, 2, 0, -2], 0, true, true), 'circle', e_com_C, e_com_V, e_com_ell);
subplot([593, 424, 715, 667], axis(-2.884, 2.791, [-2, 0, 2], 0, true, false), axis(-3.732, 4.106, [4, 2, 0, -2], 0, false, true), 'triangle', e_yal_C, e_yal_V, e_yal_ell);
subplot([721, 424, 860, 667], axis(-3.101, 3.304, [-2, 0, 2], 0, true, false), axis(-3.732, 4.106, [4, 2, 0, -2], 0, false, true), 'rect', e_blu_C, e_blu_V, e_blu_ell);

// (f)
subplot([890, 418, 1085, 520], axis(-0.912, 1.492, [-0.5, 0, 0.5, 1], 1, false, false), axis(-0.888, 0.738, [0.5, 0, -0.5], 1, true, true), 'circle', f_com_C, f_com_V, f_com_ell);
subplot([1096, 418, 1290, 520], axis(-1.128, 1.2, [-1, -0.5, 0, 0.5, 1], 1, false, false), axis(-0.888, 0.738, [0.5, 0, -0.5], 1, false, true), 'triangle', f_yal_C, f_yal_V, f_yal_ell);
subplot([890, 558, 1085, 667], axis(-0.912, 1.492, [-0.5, 0, 0.5, 1], 1, true, false), axis(-1.067, 0.669, [0.5, 0, -0.5, -1], 1, true, true), 'rect', f_blu_C, f_blu_V, f_blu_ell);
subplot([1096, 558, 1279, 667], axis(-1.128, 1.068, [-1, -0.5, 0, 0.5, 1], 1, true, false), axis(-1.067, 0.669, [0.5, 0, -0.5, -1], 1, false, true), 'cross', f_cre_C, f_cre_V, f_cre_ell);
</script>
</body>
</html>
